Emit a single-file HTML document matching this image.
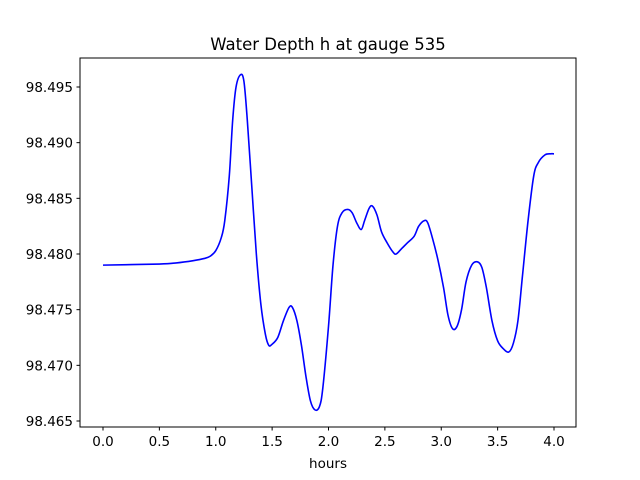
<!DOCTYPE html>
<html><head><meta charset="utf-8"><style>
body{margin:0;background:#fff;}
svg{display:block;font-family:"DejaVu Sans","Liberation Sans",sans-serif;}
</style></head><body>
<svg id="chart" width="640" height="480">
<rect x="0" y="0" width="640" height="480" fill="#fff"/>
<text x="328" y="50" text-anchor="middle" font-size="16.5">Water Depth h at gauge 535</text>
<g id="xt"></g>
<g id="yt"></g>
<path id="line" fill="none" stroke="#0000ff" stroke-width="1.6"/>
<rect x="80" y="58" width="496" height="369" fill="none" stroke="#000" stroke-width="1"/>
<text x="328" y="468" text-anchor="middle" font-size="13.5">hours</text>
</svg>
<script>
const hours=[0,0.5,0.65,0.8,0.9,0.95,1.0,1.05,1.08,1.12,1.15,1.18,1.22,1.25,1.28,1.32,1.36,1.40,1.44,1.47,1.50,1.55,1.60,1.65,1.68,1.72,1.76,1.80,1.84,1.88,1.92,1.95,2.0,2.04,2.08,2.12,2.17,2.21,2.25,2.29,2.32,2.36,2.39,2.43,2.47,2.52,2.57,2.60,2.65,2.7,2.76,2.8,2.85,2.88,2.92,2.97,3.02,3.06,3.10,3.14,3.18,3.22,3.27,3.32,3.36,3.40,3.45,3.50,3.55,3.60,3.64,3.68,3.72,3.77,3.82,3.86,3.92,3.97,4.0];
const depth=[98.479,98.4791,98.4792,98.4794,98.4796,98.4798,98.4803,98.4815,98.483,98.487,98.492,98.495,98.4961,98.4955,98.492,98.486,98.480,98.4755,98.4728,98.4718,98.4719,98.4725,98.474,98.4752,98.4752,98.474,98.4718,98.469,98.4668,98.466,98.4663,98.468,98.4735,98.479,98.4825,98.4837,98.484,98.4837,98.4828,98.4822,98.483,98.4841,98.4843,98.4835,98.482,98.481,98.4802,98.480,98.4805,98.481,98.4816,98.4825,98.483,98.4828,98.4815,98.4795,98.477,98.4745,98.4733,98.4735,98.475,98.4775,98.479,98.4793,98.4788,98.477,98.474,98.4722,98.4715,98.4712,98.472,98.474,98.478,98.483,98.487,98.4882,98.4889,98.489,98.489];
const xTicks=[0,0.5,1.0,1.5,2.0,2.5,3.0,3.5,4.0];
const xLabels=["0.0","0.5","1.0","1.5","2.0","2.5","3.0","3.5","4.0"];
const yTicks=[98.465,98.470,98.475,98.480,98.485,98.490,98.495];
const yLabels=["98.465","98.470","98.475","98.480","98.485","98.490","98.495"];
const NS="http://www.w3.org/2000/svg";
function sx(v){return 103+v*112.75;}
function sy(v){return 254-(v-98.480)/0.005*55.67;}
const xt=document.getElementById('xt'),yt=document.getElementById('yt');
xTicks.forEach((v,i)=>{
 const l=document.createElementNS(NS,'line');
 l.setAttribute('x1',sx(v));l.setAttribute('x2',sx(v));l.setAttribute('y1',427);l.setAttribute('y2',430.5);l.setAttribute('stroke','#000');
 
 
 xt.appendChild(l);
 const t=document.createElementNS(NS,'text');
 t.setAttribute('x',sx(v));t.setAttribute('y',446);t.setAttribute('text-anchor','middle');t.setAttribute('font-size','13.5');
 t.textContent=xLabels[i];
 
 
 xt.appendChild(t);
});
yTicks.forEach((v,i)=>{
 const l=document.createElementNS(NS,'line');
 l.setAttribute('x1',76.5);l.setAttribute('x2',80);l.setAttribute('y1',sy(v));l.setAttribute('y2',sy(v));l.setAttribute('stroke','#000');
 
 
 yt.appendChild(l);
 const t=document.createElementNS(NS,'text');
 t.setAttribute('x',73);t.setAttribute('y',sy(v)+5);t.setAttribute('text-anchor','end');t.setAttribute('font-size','13.5');
 t.textContent=yLabels[i];
 
 
 yt.appendChild(t);
});
// Catmull-Rom smoothing
const P=hours.map((h,i)=>[sx(h),sy(depth[i])]);
let d='M'+P[0][0]+','+P[0][1];
for(let i=0;i<P.length-1;i++){
 const p0=P[Math.max(0,i-1)],p1=P[i],p2=P[i+1],p3=P[Math.min(P.length-1,i+2)];
 const c1=[p1[0]+(p2[0]-p0[0])/6,p1[1]+(p2[1]-p0[1])/6];
 const c2=[p2[0]-(p3[0]-p1[0])/6,p2[1]-(p3[1]-p1[1])/6];
 d+=' C'+c1[0]+','+c1[1]+' '+c2[0]+','+c2[1]+' '+p2[0]+','+p2[1];
}
document.getElementById('line').setAttribute('d',d);
</script>
</body></html>
